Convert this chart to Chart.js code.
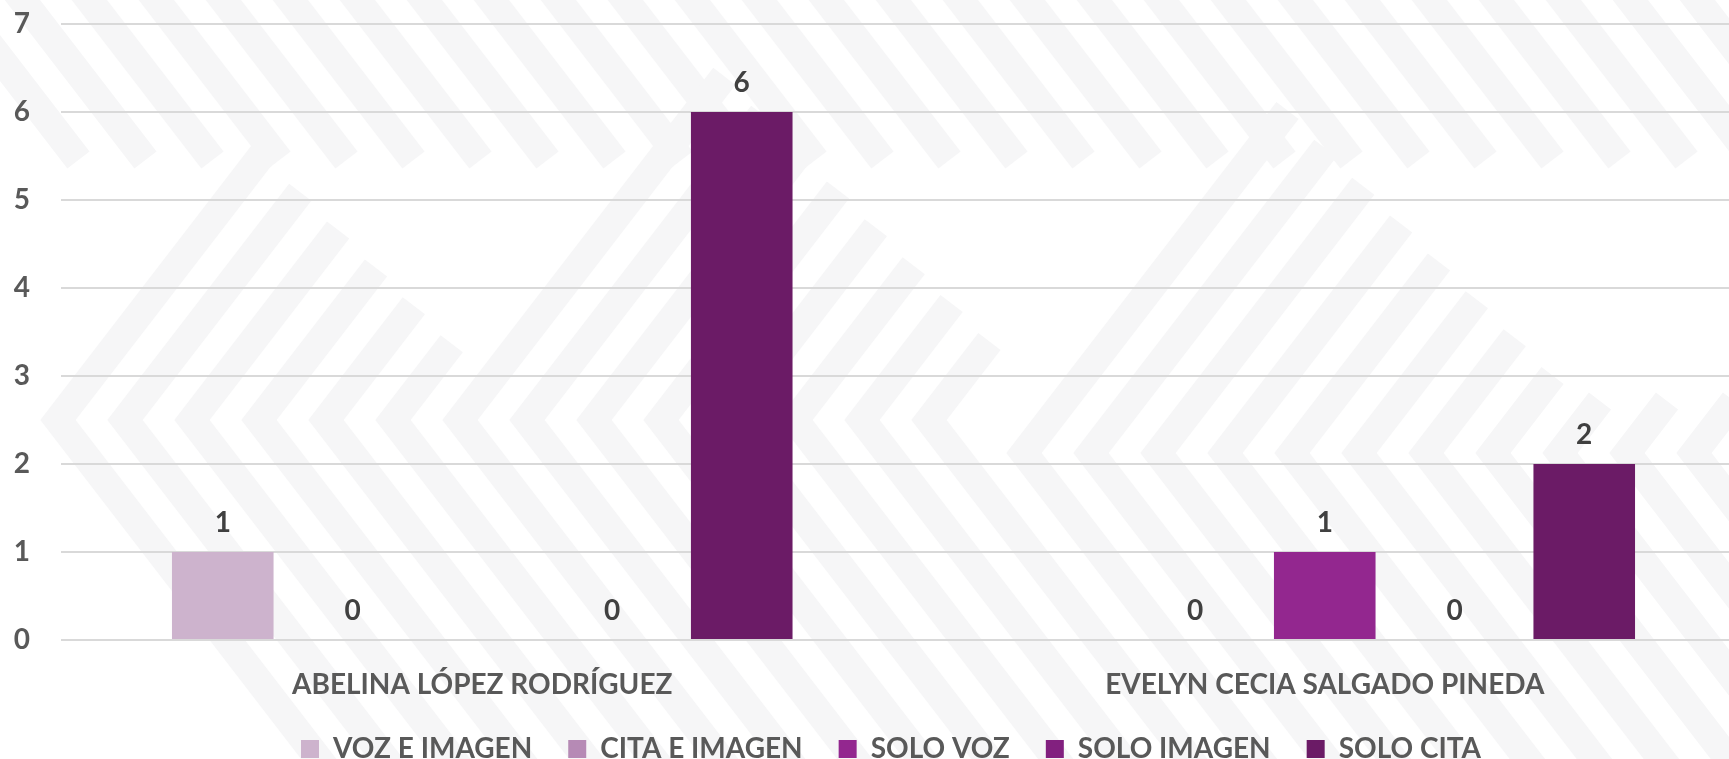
<!DOCTYPE html>
<html>
<head>
<meta charset="utf-8">
<script src="https://cdn.jsdelivr.net/npm/chart.js@4.4.1/dist/chart.umd.min.js"></script>
<style>
  html, body { margin: 0; padding: 0; background: #fff; overflow: hidden; }
  #wrap { position: relative; width: 1746px; height: 759px; }
</style>
</head>
<body>
<div id="wrap"><canvas id="chart" width="1746" height="759"></canvas></div>
<script>
const categories = ["ABELINA LÓPEZ RODRÍGUEZ", "EVELYN CECIA SALGADO PINEDA"];
const seriesNames = ["VOZ E IMAGEN", "CITA E IMAGEN", "SOLO VOZ", "SOLO IMAGEN", "SOLO CITA"];
const vozImagen = [1, null];
const citaImagen = [0, 0];
const soloVoz = [null, 1];
const soloImagen = [0, 0];
const soloCita = [6, 2];
const yTicks = [0, 1, 2, 3, 4, 5, 6, 7];

const colors = ["#CDB3CD", "#B68AB5", "#93278F", "#82207F", "#6B1B66"];
const font = { family: "Lato", weight: "bold", size: 28 };

/* faint chevron watermark behind the plot */
const backdrop = {
  id: "backdrop",
  beforeDraw(chart) {
    const ctx = chart.ctx;
    const W = chart.width, H = chart.height;
    const S = 1.3;
    ctx.save();
    ctx.fillStyle = "#fff";
    ctx.fillRect(0, 0, W, H);
    ctx.strokeStyle = "#f6f6f7";
    ctx.lineWidth = 28;
    ctx.lineJoin = "miter";

    // stripes coming down from the top edge
    for (let k = 0; k < 28; k++) {
      const x0 = -60 + 67 * k;
      ctx.beginPath();
      ctx.moveTo(x0, -20);
      ctx.lineTo(x0 + 180 / S, 160);
      ctx.stroke();
    }

    function chevron(tx, ty, up) {
      ctx.beginPath();
      ctx.moveTo(tx + up, ty - S * up);
      ctx.lineTo(tx, ty);
      ctx.lineTo(tx + (H + 40 - ty) / S, H + 40);
      ctx.stroke();
    }
    for (let k = 0; k < 14; k++) {
      const tx = 58 + 67 * k;
      const c = tx < 420 ? 108 : 648;
      chevron(tx, 420, Math.max(40, (420 - tx + c) / 2.3));
    }
    for (let k = 0; k < 11; k++) {
      const tx = 1024 + 67 * k;
      chevron(tx, 453, Math.max(40, (453 - tx + 1177) / 2.3));
    }
    ctx.restore();
  }
};

/* value printed above each bar */
const barValues = {
  id: "barValues",
  afterDatasetsDraw(chart) {
    const ctx = chart.ctx;
    ctx.save();
    ctx.font = "bold 28px Lato";
    ctx.fillStyle = "#404040";
    ctx.textAlign = "center";
    ctx.textBaseline = "middle";
    chart.data.datasets.forEach((ds, i) => {
      chart.getDatasetMeta(i).data.forEach((bar, j) => {
        const v = ds.data[j];
        if (v === null || v === undefined) return;
        ctx.fillText(String(v), bar.x, bar.y - 29);
      });
    });
    ctx.restore();
  }
};

/* legend row: shorter box, shifted a little */
const legendNudge = {
  id: "legendNudge",
  beforeLayout(chart) {
    const lg = chart.legend;
    if (lg && !lg._short) {
      const fit = lg.fit;
      lg.fit = function () { fit.call(this); this.height = 59; };
      lg._short = true;
    }
  },
  afterLayout(chart) {
    const lg = chart.legend;
    lg.left += 18; lg.right += 18;
    lg.top -= 1; lg.bottom -= 1;
  }
};

const seriesData = [vozImagen, citaImagen, soloVoz, soloImagen, soloCita];

new Chart(document.getElementById("chart"), {
  type: "bar",
  data: {
    labels: categories,
    datasets: seriesNames.map((name, i) => ({
      label: name,
      data: seriesData[i],
      backgroundColor: colors[i],
      borderWidth: 0,
      categoryPercentage: 0.77,
      barPercentage: 0.783
    }))
  },
  options: {
    responsive: false,
    animation: false,
    devicePixelRatio: 1,
    layout: { padding: { top: 24, bottom: 0, left: 0, right: 0 } },
    plugins: {
      tooltip: { enabled: false },
      legend: {
        position: "bottom",
        labels: {
          boxWidth: 18,
          boxHeight: 18,
          padding: 36,
          color: "#595959",
          font: font
        }
      }
    },
    scales: {
      x: {
        afterFit(scale) { scale.height = 60; },
        grid: { display: false, drawTicks: false },
        border: { display: false },
        ticks: { color: "#595959", font: font, padding: 28 }
      },
      y: {
        min: 0,
        max: 7,
        afterFit(scale) { scale.width = 61; scale.paddingTop = 0; },
        afterBuildTicks(scale) { scale.ticks = yTicks.map(v => ({ value: v })); },
        grid: { color: "#d9d9d9", lineWidth: 2, drawTicks: false },
        border: { display: false },
        ticks: { color: "#595959", font: font, padding: 31 }
      }
    }
  },
  plugins: [backdrop, barValues, legendNudge]
});
</script>
</body>
</html>
